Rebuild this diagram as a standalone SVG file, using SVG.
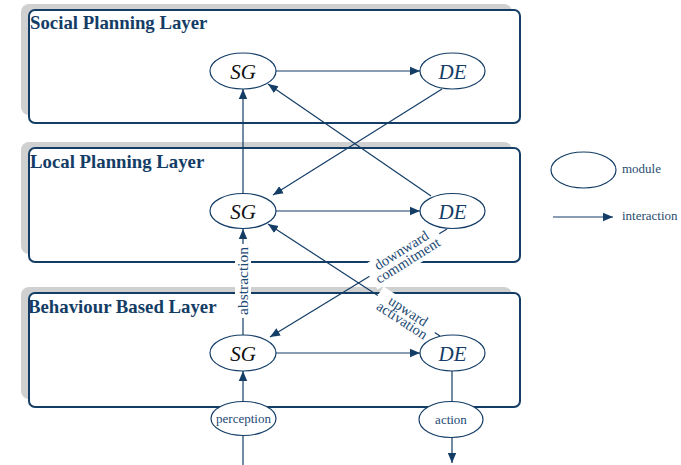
<svg xmlns="http://www.w3.org/2000/svg" width="681" height="465" viewBox="0 0 681 465">
<defs>
<marker id="ah" markerUnits="userSpaceOnUse" markerWidth="10" markerHeight="10" viewBox="0 0 10 10" refX="10" refY="5" orient="auto">
<path d="M0,0.8 L10,5 L0,9.2 Z" fill="#143d66"/>
</marker>
<style>
.shadow{fill:#d0d0d0}
.box{fill:#ffffff;stroke:#143d66;stroke-width:2}
.title{font-family:"Liberation Serif",serif;font-weight:bold;font-size:18.8px;fill:#143d66}
.mod{fill:#ffffff;stroke:#143d66;stroke-width:1.2}
.sg{font-family:"Liberation Serif",serif;font-style:italic;font-size:21px;fill:#111111;text-anchor:middle}
.de{font-family:"Liberation Serif",serif;font-style:italic;font-size:21px;fill:#143d66;text-anchor:middle}
.small{font-family:"Liberation Serif",serif;font-size:13px;fill:#1d4a73;text-anchor:middle}
.leg{font-family:"Liberation Serif",serif;font-size:13px;fill:#2a4c70}
.lbl{font-family:"Liberation Serif",serif;font-size:14.5px;fill:#1d4a73;text-anchor:middle}
.c{stroke:#143d66;stroke-width:1.2;fill:none}
.bg{fill:#ffffff}
</style>
</defs>

<g id="layer-social">
<rect class="shadow" x="21" y="4" width="491" height="111" rx="8"/>
<rect class="box" x="29" y="10" width="491" height="113" rx="6"/>
<text class="title" x="30" y="29">Social Planning Layer</text>
</g>
<g id="layer-local">
<rect class="shadow" x="21" y="142" width="491" height="112" rx="8"/>
<rect class="box" x="29" y="148" width="491" height="114" rx="6"/>
<text class="title" x="30" y="168">Local Planning Layer</text>
</g>
<g id="layer-behaviour">
<rect class="shadow" x="21" y="287" width="491" height="112" rx="8"/>
<rect class="box" x="29" y="293" width="491" height="114" rx="6"/>
<text class="title" x="28" y="313">Behaviour Based Layer</text>
</g>

<g id="connectors">
<line class="c" x1="276" y1="71" x2="420" y2="71" marker-end="url(#ah)"/>
<line class="c" x1="276" y1="211" x2="420" y2="211" marker-end="url(#ah)"/>
<line class="c" x1="276" y1="353" x2="420" y2="353" marker-end="url(#ah)"/>
<line class="c" x1="243" y1="193" x2="243" y2="89" marker-end="url(#ah)"/>
<line class="c" x1="243" y1="335" x2="243" y2="229" marker-end="url(#ah)"/>
<line class="c" x1="243" y1="401" x2="243" y2="371" marker-end="url(#ah)"/>
<line class="c" x1="243" y1="436" x2="243" y2="465"/>
<line class="c" x1="442" y1="89" x2="273" y2="195" marker-end="url(#ah)"/>
<line class="c" x1="431" y1="196" x2="268" y2="84" marker-end="url(#ah)"/>
<line class="c" x1="447" y1="229" x2="270" y2="337" marker-end="url(#ah)"/>
<line class="c" x1="440" y1="336" x2="268" y2="224" marker-end="url(#ah)"/>
<line class="c" x1="452" y1="371" x2="452" y2="402"/>
<line class="c" x1="452" y1="437" x2="452" y2="463" marker-end="url(#ah)"/>
<line class="c" x1="553" y1="217" x2="613" y2="217" marker-end="url(#ah)"/>

<g transform="translate(243,281) rotate(-90)">
<rect class="bg" x="-37" y="-8" width="74" height="16"/>
<text class="lbl" x="0" y="5" style="font-size:15.5px">abstraction</text>
</g>
<g transform="translate(405,256) rotate(-32)">
<rect class="bg" x="-41" y="-14" width="82" height="28"/>
<text class="lbl" x="0" y="-2">downward</text>
<text class="lbl" x="0" y="10">commitment</text>
</g>
<g transform="translate(405,316) rotate(33)">
<rect class="bg" x="-34" y="-13" width="68" height="27"/>
<text class="lbl" x="0" y="-1">upward</text>
<text class="lbl" x="0" y="10">activation</text>
</g>
</g>

<g id="social-sg">
<ellipse class="mod" cx="243" cy="71" rx="33" ry="18"/>
<text class="sg" x="243" y="79">SG</text>
</g>
<g id="social-de">
<ellipse class="mod" cx="452.5" cy="71" rx="32.5" ry="18"/>
<text class="de" x="452.5" y="79">DE</text>
</g>
<g id="local-sg">
<ellipse class="mod" cx="243" cy="211" rx="33" ry="17.5"/>
<text class="sg" x="243" y="219">SG</text>
</g>
<g id="local-de">
<ellipse class="mod" cx="452.5" cy="211" rx="32.5" ry="17.5"/>
<text class="de" x="452.5" y="219">DE</text>
</g>
<g id="behaviour-sg">
<ellipse class="mod" cx="243" cy="353" rx="33" ry="18"/>
<text class="sg" x="243" y="361">SG</text>
</g>
<g id="behaviour-de">
<ellipse class="mod" cx="452.5" cy="353" rx="32.5" ry="18"/>
<text class="de" x="452.5" y="361">DE</text>
</g>
<g id="perception">
<ellipse class="mod" cx="243.5" cy="418.5" rx="32.5" ry="17"/>
<text class="small" x="243.5" y="423">perception</text>
</g>
<g id="action">
<ellipse class="mod" cx="451" cy="419.5" rx="32" ry="18"/>
<text class="small" x="451" y="424">action</text>
</g>
<g id="legend">
<ellipse class="mod" cx="583.5" cy="170" rx="32.5" ry="18"/>
<text class="leg" x="622" y="173">module</text>
<text class="leg" x="622" y="220">interaction</text>
</g>
</svg>
